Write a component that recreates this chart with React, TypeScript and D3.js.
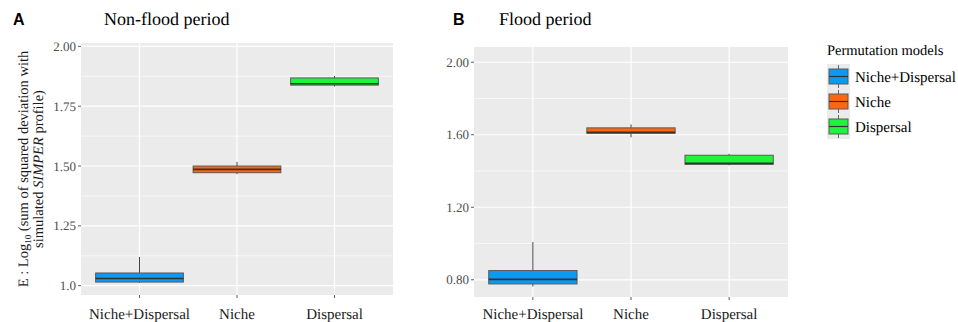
import React from "react";
import * as d3 from "d3";

// Permutation model categories
const categories = ["Niche+Dispersal", "Niche", "Dispersal"];
const colors = ["#0b99f2", "#ff660f", "#1cf53c"];

// Non-flood period (panel A) box statistics
const nfLow = [1.011, 1.466, 1.832];
const nfQ1 = [1.015, 1.472, 1.838];
const nfMed = [1.03, 1.486, 1.844];
const nfQ3 = [1.053, 1.5, 1.868];
const nfHigh = [1.12, 1.517, 1.876];

// Flood period (panel B) box statistics
const fLow = [0.763, 1.586, 1.431];
const fQ1 = [0.777, 1.608, 1.437];
const fMed = [0.802, 1.613, 1.442];
const fQ3 = [0.851, 1.638, 1.487];
const fHigh = [1.008, 1.657, 1.495];

const nfTicks = [1.0, 1.25, 1.5, 1.75, 2.0];
const nfTickLabels = ["1.0", "1.25", "1.50", "1.75", "2.00"];
const nfMinor = [1.125, 1.375, 1.625, 1.875];
const fTicks = [0.8, 1.2, 1.6, 2.0];
const fTickLabels = ["0.80", "1.20", "1.60", "2.00"];
const fMinor = [1.0, 1.4, 1.8];

const serif = "Liberation Serif";
const sans = "Liberation Sans";
const serifStyle = { fontFamily: serif, textRendering: "geometricPrecision" } as React.CSSProperties;

interface PanelProps {
  x0: number;
  x1: number;
  y0: number;
  y1: number;
  domain: [number, number];
  ticks: number[];
  tickLabels: string[];
  minor: number[];
  low: number[];
  q1: number[];
  med: number[];
  q3: number[];
  high: number[];
}

const Panel: React.FC<PanelProps> = ({
  x0, x1, y0, y1, domain, ticks, tickLabels, minor, low, q1, med, q3, high,
}) => {
  const y = d3.scaleLinear().domain(domain).range([y1, y0]);
  const x = d3
    .scalePoint<string>()
    .domain(categories)
    .range([x0, x1])
    .padding(0.6);
  const boxW = x.step() * 0.9;

  return (
    <g>
      <rect x={x0} y={y0} width={x1 - x0} height={y1 - y0} fill="#ebebeb" />
      {minor.map((v) => (
        <line key={"m" + v} x1={x0} x2={x1} y1={y(v)} y2={y(v)} stroke="#fff" strokeWidth={0.6} />
      ))}
      {ticks.map((v) => (
        <line key={"g" + v} x1={x0} x2={x1} y1={y(v)} y2={y(v)} stroke="#fff" strokeWidth={1.2} />
      ))}
      {categories.map((c) => (
        <line key={"v" + c} x1={x(c)!} x2={x(c)!} y1={y0} y2={y1} stroke="#fff" strokeWidth={1.2} />
      ))}
      {ticks.map((v, i) => (
        <g key={"t" + v}>
          <line x1={x0 - 3} x2={x0} y1={y(v)} y2={y(v)} stroke="#333" strokeWidth={0.8} />
          <text
            x={x0 - 5}
            y={y(v)}
            dy="0.35em"
            textAnchor="end"
            style={serifStyle}
            fontSize={13}
            fill="#4d4d4d"
          >
            {tickLabels[i]}
          </text>
        </g>
      ))}
      {categories.map((c) => (
        <g key={"x" + c}>
          <line x1={x(c)!} x2={x(c)!} y1={y1} y2={y1 + 3} stroke="#333" strokeWidth={0.8} />
          <text
            x={x(c)!}
            y={319}
            textAnchor="middle"
            style={serifStyle}
            fontSize={15}
            fill="#1a1a1a"
          >
            {c}
          </text>
        </g>
      ))}
      {categories.map((c, i) => {
        const cx = x(c)!;
        return (
          <g key={"b" + c}>
            <line x1={cx} x2={cx} y1={y(high[i])} y2={y(q3[i])} stroke="#444" strokeWidth={1} />
            <line x1={cx} x2={cx} y1={y(q1[i])} y2={y(low[i])} stroke="#444" strokeWidth={1} />
            <rect
              x={cx - boxW / 2}
              y={y(q3[i])}
              width={boxW}
              height={y(q1[i]) - y(q3[i])}
              fill={colors[i]}
              stroke="#5a5a5a"
              strokeWidth={1}
            />
            <line
              x1={cx - boxW / 2}
              x2={cx + boxW / 2}
              y1={y(med[i])}
              y2={y(med[i])}
              stroke="#333"
              strokeWidth={1.6}
            />
          </g>
        );
      })}
    </g>
  );
};

const App: React.FC = () => {
  const keyTop = 64;
  const keyH = 25;
  return (
    <svg width={958} height={322} style={{ position: "absolute", left: 0, top: 0 }}>
      <rect width={958} height={322} fill="#fff" />

      <text x={13} y={25} fontFamily={sans} fontWeight="bold" fontSize={16} fill="#000">A</text>
      <text x={104} y={25} style={serifStyle} fontSize={18} fill="#000">Non-flood period</text>
      <text x={453} y={25} fontFamily={sans} fontWeight="bold" fontSize={16} fill="#000">B</text>
      <text x={499} y={25} style={serifStyle} fontSize={18} fill="#000">Flood period</text>

      <g transform="translate(28,169) rotate(-90)">
        <text textAnchor="middle" style={serifStyle} fontSize={14.5} fill="#1a1a1a">
          E : Log
          <tspan fontSize={9} dy={3}>10</tspan>
          <tspan dy={-3}> (sum of squared deviation with</tspan>
        </text>
      </g>
      <g transform="translate(43,169) rotate(-90)">
        <text textAnchor="middle" style={serifStyle} fontSize={14.5} fill="#1a1a1a">
          simulated <tspan fontStyle="italic">SIMPER</tspan> profile)
        </text>
      </g>

      <Panel
        x0={81} x1={393} y0={43} y1={295}
        domain={[0.961, 2.014]}
        ticks={nfTicks} tickLabels={nfTickLabels} minor={nfMinor}
        low={nfLow} q1={nfQ1} med={nfMed} q3={nfQ3} high={nfHigh}
      />
      <Panel
        x0={474} x1={788} y0={47} y1={297}
        domain={[0.705, 2.084]}
        ticks={fTicks} tickLabels={fTickLabels} minor={fMinor}
        low={fLow} q1={fQ1} med={fMed} q3={fQ3} high={fHigh}
      />

      {/* Legend */}
      <text x={827} y={55} style={serifStyle} fontSize={14.5} fill="#000">Permutation models</text>
      <rect x={827} y={keyTop} width={23} height={keyH * 3} fill="#ebebeb" />
      {categories.map((c, i) => {
        const ky = keyTop + i * keyH;
        return (
          <g key={"l" + c}>
            <line x1={838.5} x2={838.5} y1={ky + 1} y2={ky + keyH - 1} stroke="#444" strokeWidth={0.8} />
            <rect x={829} y={ky + 5} width={19} height={15} fill={colors[i]} stroke="#5a5a5a" strokeWidth={1} />
            <line x1={829} x2={848} y1={ky + 12.5} y2={ky + 12.5} stroke="#333" strokeWidth={1.2} />
            <text x={855} y={ky + 12.5} dy="0.35em" style={serifStyle} fontSize={15} fill="#000">
              {c}
            </text>
          </g>
        );
      })}
    </svg>
  );
};

export default App;
